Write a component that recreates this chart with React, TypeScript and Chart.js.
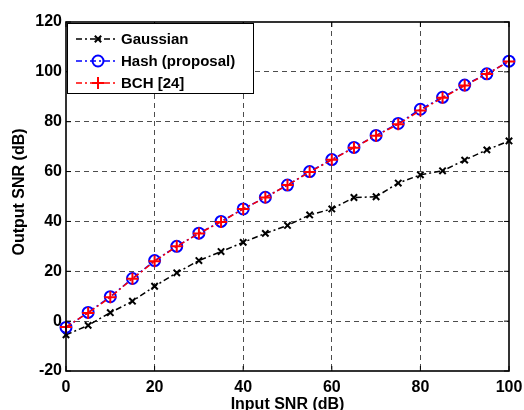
import React, { useEffect, useRef } from "react";
import { Chart, registerables } from "chart.js";

Chart.register(...registerables);

const inputSNR = [0, 5, 10, 15, 20, 25, 30, 35, 40, 45, 50, 55, 60, 65, 70, 75, 80, 85, 90, 95, 100];
const gaussian = [-5.5, -1.7, 3.4, 8.0, 14, 19.4, 24.3, 27.9, 31.6, 35.2, 38.4, 42.6, 45, 49.6, 49.9, 55.4, 58.7, 60.3, 64.6, 68.7, 72.3];
const hash = [-2.5, 3.5, 9.8, 17.1, 24.3, 30, 35.3, 40, 45, 49.7, 54.6, 60, 64.8, 69.7, 74.5, 79.3, 85, 89.8, 94.7, 99.2, 104.3];
const bch = [-2.3, 3.3, 9.6, 17, 24, 30, 35.2, 39.8, 45, 49.6, 54.6, 59.8, 64.7, 69.6, 74.4, 79, 84.5, 89.6, 94.5, 99.1, 104.2];
const xTicks = [0, 20, 40, 60, 80, 100];
const yTicks = [-20, 0, 20, 40, 60, 80, 100, 120];
const seriesLabels = ["Gaussian", "Hash (proposal)", "BCH [24]"];
const xTitle = "Input SNR (dB)";
const yTitle = "Output SNR (dB)";

const FAMILY = '"Liberation Sans", Arial, Helvetica, sans-serif';
const TITLE_FONT = `bold 16px ${FAMILY}`;
const LEGEND_FONT = `bold 15px ${FAMILY}`;
const LINE_DASH = [6, 3, 2, 3];

type Style = { color: string; point: string; radius: number };
const styles: Style[] = [
  { color: "#000000", point: "crossRot", radius: 4.5 },
  { color: "#0000ff", point: "circle", radius: 5.5 },
  { color: "#ff0000", point: "cross", radius: 6 },
];

function drawMarker(ctx: CanvasRenderingContext2D, kind: string, x: number, y: number, r: number, color: string) {
  ctx.save();
  ctx.strokeStyle = color;
  ctx.lineWidth = 2;
  ctx.setLineDash([]);
  ctx.beginPath();
  if (kind === "circle") {
    ctx.arc(x, y, r, 0, Math.PI * 2);
  } else if (kind === "cross") {
    ctx.moveTo(x - r, y);
    ctx.lineTo(x + r, y);
    ctx.moveTo(x, y - r);
    ctx.lineTo(x, y + r);
  } else {
    const d = r * 0.7071;
    ctx.moveTo(x - d, y - d);
    ctx.lineTo(x + d, y + d);
    ctx.moveTo(x - d, y + d);
    ctx.lineTo(x + d, y - d);
  }
  ctx.stroke();
  ctx.restore();
}

const decorPlugin = {
  id: "decor",
  afterDraw(chart: any) {
    const ctx: CanvasRenderingContext2D = chart.ctx;
    const { left, right, top, bottom } = chart.chartArea;
    const xs = chart.scales.x;
    const ys = chart.scales.y;
    ctx.save();
    // axes box
    ctx.strokeStyle = "#000";
    ctx.lineWidth = 1.6;
    ctx.setLineDash([]);
    ctx.strokeRect(left, top, right - left, bottom - top);
    // inside ticks
    ctx.lineWidth = 1;
    const tl = 5;
    ctx.beginPath();
    xTicks.forEach((v) => {
      const px = xs.getPixelForValue(v);
      ctx.moveTo(px, bottom);
      ctx.lineTo(px, bottom - tl);
      ctx.moveTo(px, top);
      ctx.lineTo(px, top + tl);
    });
    yTicks.forEach((v) => {
      const py = ys.getPixelForValue(v);
      ctx.moveTo(left, py);
      ctx.lineTo(left + tl, py);
      ctx.moveTo(right, py);
      ctx.lineTo(right - tl, py);
    });
    ctx.stroke();

    // legend
    const bx = left + 1;
    const by = top + 1;
    const bw = 186;
    const bh = 70;
    ctx.fillStyle = "#fff";
    ctx.fillRect(bx, by, bw, bh);
    ctx.strokeStyle = "#000";
    ctx.lineWidth = 1;
    ctx.strokeRect(bx + 0.5, by + 0.5, bw, bh);
    ctx.font = LEGEND_FONT;
    ctx.textBaseline = "middle";
    ctx.textAlign = "left";
    seriesLabels.forEach((label, i) => {
      const cy = by + 16 + i * 22;
      const st = styles[i];
      ctx.strokeStyle = st.color;
      ctx.lineWidth = 1.4;
      ctx.setLineDash(LINE_DASH);
      ctx.beginPath();
      ctx.moveTo(bx + 9, cy);
      ctx.lineTo(bx + 50, cy);
      ctx.stroke();
      ctx.setLineDash([]);
      drawMarker(ctx, st.point, bx + 31, cy, st.radius, st.color);
      ctx.fillStyle = "#000";
      ctx.fillText(label, bx + 54, cy + 1);
    });

    // axis titles
    ctx.fillStyle = "#000";
    ctx.font = TITLE_FONT;
    ctx.textAlign = "center";
    ctx.textBaseline = "alphabetic";
    ctx.fillText(xTitle, (left + right) / 2, 409);
    ctx.translate(24, 192);
    ctx.rotate(-Math.PI / 2);
    ctx.fillText(yTitle, 0, 0);
    ctx.restore();
  },
};

export default function App() {
  const ref = useRef<HTMLCanvasElement | null>(null);
  useEffect(() => {
    if (!ref.current) return;
    const mk = (vals: number[]) => inputSNR.map((x, i) => ({ x, y: vals[i] }));
    const series = [gaussian, hash, bch];
    const orders = [2, 1, 0];
    const chart = new Chart(ref.current, {
      type: "line",
      data: {
        datasets: series.map((vals, i) => ({
          label: seriesLabels[i],
          data: mk(vals),
          borderColor: styles[i].color,
          backgroundColor: "rgba(0,0,0,0)",
          borderWidth: 1.5,
          borderDash: LINE_DASH,
          pointStyle: styles[i].point as any,
          pointRadius: styles[i].radius,
          pointBorderColor: styles[i].color,
          pointBackgroundColor: "rgba(0,0,0,0)",
          pointBorderWidth: 2,
          fill: false,
          tension: 0,
          clip: false as any,
          order: orders[i],
        })),
      },
      options: {
        animation: false,
        responsive: false,
        events: [],
        layout: { padding: { left: 0, right: 15, top: 22, bottom: 0 } },
        plugins: { legend: { display: false }, tooltip: { enabled: false } },
        scales: {
          x: {
            type: "linear",
            min: 0,
            max: 100,
            afterBuildTicks: (s: any) => {
              s.ticks = xTicks.map((v) => ({ value: v }));
            },
            afterFit: (s: any) => {
              s.height = 39;
              s.paddingLeft = 0;
              s.paddingRight = 0;
            },
            ticks: {
              color: "#000",
              font: { family: FAMILY, size: 16, weight: "bold" },
              padding: 7,
              maxRotation: 0,
            },
            grid: {
              drawTicks: false,
              lineWidth: 1,
              color: (c: any) =>
                c.tick && (c.tick.value === 0 || c.tick.value === 100) ? "rgba(0,0,0,0)" : "#4d4d4d",
            },
            border: { display: false, dash: [5, 4] },
          },
          y: {
            type: "linear",
            min: -20,
            max: 120,
            afterBuildTicks: (s: any) => {
              s.ticks = yTicks.map((v) => ({ value: v }));
            },
            afterFit: (s: any) => {
              s.width = 66;
              s.paddingTop = 0;
              s.paddingBottom = 0;
            },
            ticks: {
              color: "#000",
              font: { family: FAMILY, size: 16, weight: "bold" },
              padding: 4,
            },
            grid: {
              drawTicks: false,
              lineWidth: 1,
              color: (c: any) =>
                c.tick && (c.tick.value === -20 || c.tick.value === 120) ? "rgba(0,0,0,0)" : "#4d4d4d",
            },
            border: { display: false, dash: [5, 4] },
          },
        },
      },
      plugins: [decorPlugin],
    } as any);
    return () => chart.destroy();
  }, []);
  return (
    <div style={{ position: "absolute", left: 0, top: 0, width: 524, height: 410, background: "#fff" }}>
      <canvas ref={ref} width={524} height={410} style={{ display: "block" }} />
    </div>
  );
}
